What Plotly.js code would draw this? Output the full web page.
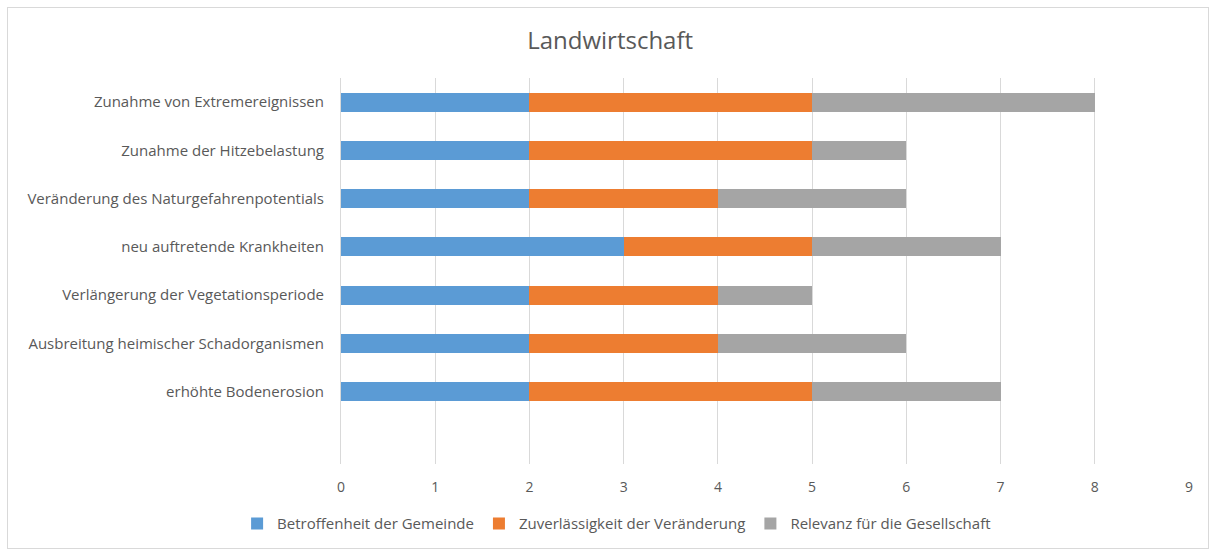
<!DOCTYPE html>
<html>
<head>
<meta charset="utf-8">
<script src="https://cdn.plot.ly/plotly-3.0.1.min.js"></script>
<style>
  html, body { margin: 0; padding: 0; background: #fff; }
  #wrap { position: relative; width: 1213px; height: 552px; }
  #chart { width: 1213px; height: 552px; }
  #frame { position: absolute; left: 7px; top: 7px; width: 1202px; height: 542px; border: 1px solid #d9d9d9; pointer-events: none; box-sizing: border-box; }
</style>
</head>
<body>
<div id="wrap">
  <div id="chart"></div>
  <div id="frame"></div>
</div>
<script>
// Categories listed bottom to top
const categories = [
  "erhöhte Bodenerosion",
  "Ausbreitung heimischer Schadorganismen",
  "Verlängerung der Vegetationsperiode",
  "neu auftretende Krankheiten",
  "Veränderung des Naturgefahrenpotentials",
  "Zunahme der Hitzebelastung",
  "Zunahme von Extremereignissen"
];
const betroffenheit = [2, 2, 2, 3, 2, 2, 2];
const zuverlaessigkeit = [3, 2, 2, 2, 2, 3, 3];
const relevanz = [2, 2, 1, 2, 2, 1, 3];
const seriesNames = ["Betroffenheit der Gemeinde", "Zuverlässigkeit der Veränderung", "Relevanz für die Gesellschaft"];
const seriesColors = ["#5B9BD5", "#ED7D31", "#A5A5A5"];
const tickValues = [0, 1, 2, 3, 4, 5, 6, 7, 8, 9];

const font = "Open Sans, Noto Sans, sans-serif";
const traces = [betroffenheit, zuverlaessigkeit, relevanz].map((vals, i) => ({
  type: "bar",
  orientation: "h",
  x: vals,
  y: categories,
  name: seriesNames[i],
  marker: { color: seriesColors[i] },
  width: 0.39,
  hoverinfo: "x+y"
}));

const layout = {
  width: 1213,
  height: 552,
  barmode: "stack",
  paper_bgcolor: "#ffffff",
  plot_bgcolor: "#ffffff",
  margin: { l: 341, r: 24, t: 78, b: 85 },
  title: {
    text: "Landwirtschaft",
    font: { family: font, size: 24, color: "#595959" },
    x: 0.503, xref: "container", xanchor: "center",
    y: 1 - 41 / 552, yref: "container", yanchor: "middle"
  },
  xaxis: {
    range: [0, 9],
    tickvals: tickValues,
    ticktext: tickValues.map(String),
    showgrid: true,
    gridcolor: "#d9d9d9",
    gridwidth: 1,
    zeroline: false,
    showline: false,
    ticks: "",
    tickfont: { family: font, size: 14, color: "#595959" },
    ticklabelstandoff: 13,
    fixedrange: true
  },
  yaxis: {
    type: "category",
    categoryorder: "array",
    categoryarray: categories,
    range: [-1.5, 6.5],
    showgrid: false,
    zeroline: false,
    showline: true,
    linecolor: "#d9d9d9",
    linewidth: 1,
    ticks: "",
    tickfont: { family: font, size: 15, color: "#595959" },
    ticklabelstandoff: 13,
    fixedrange: true
  },
  showlegend: true,
  legend: {
    orientation: "h",
    x: 0.325, xanchor: "center",
    y: -0.155, yanchor: "middle",
    font: { family: font, size: 15, color: "#595959" },
    traceorder: "normal",
    itemwidth: 30,
    bgcolor: "rgba(0,0,0,0)"
  }
};

Plotly.newPlot("chart", traces, layout, { displayModeBar: false, staticPlot: true });
</script>
</body>
</html>
